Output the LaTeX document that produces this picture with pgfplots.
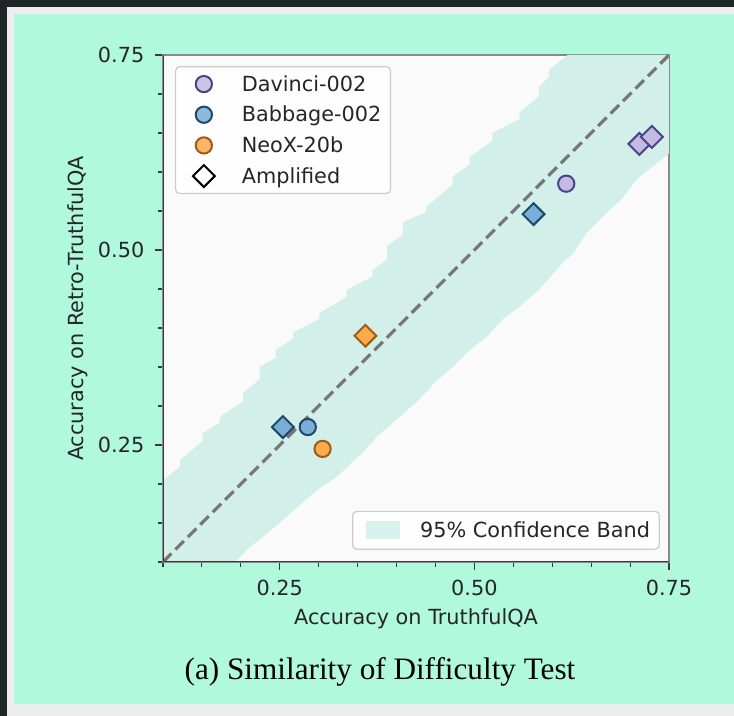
\documentclass[border=0pt]{standalone}
\usepackage{pgfplots}
\pgfplotsset{compat=1.18}
\usepackage{fontspec}
\setmainfont{DejaVu Sans}
\newfontfamily\capfont{Liberation Serif}

\definecolor{darkedge}{HTML}{1F2628}
\definecolor{framegray}{HTML}{EDEDED}
\definecolor{mint}{HTML}{B1F9DC}
\definecolor{plotbg}{HTML}{FAFAFA}
\definecolor{band}{HTML}{D3EFEA}
\definecolor{spine}{HTML}{8A8A8A}
\definecolor{spinedark}{HTML}{3A3A3A}
\definecolor{textc}{HTML}{262626}
\definecolor{legframe}{HTML}{CCCCCC}
\definecolor{diag}{HTML}{777777}
\definecolor{dvfill}{HTML}{C4BBE2}
\definecolor{dvedge}{HTML}{4A4387}
\definecolor{bbfill}{HTML}{7AADD7}
\definecolor{bbedge}{HTML}{1F4A66}
\definecolor{nxfill}{HTML}{FBAA4C}
\definecolor{nxedge}{HTML}{9C5C16}

\newcommand{\lblfont}{\fontsize{15.6}{18}\selectfont}

\pgfplotsset{
  circ/.style 2 args={only marks, mark=*, mark size=6.1pt,
    mark options={line width=1.5pt, fill=#1, draw=#2}},
  diam/.style 2 args={only marks, mark=square*, mark size=5.8pt,
    mark options={rotate=45, line width=1.5pt, fill=#1, draw=#2}},
  boxlegend/.style={
    legend cell align=left,
    legend style={draw=legframe, line width=0.9pt, rounded corners=3pt,
      fill=white, fill opacity=0.85, text opacity=1,
      font=\lblfont, text=textc, column sep=0pt,
      nodes={inner sep=0pt, text height=13.8pt, text depth=3.4pt}},
    legend image post style={sharp corners},
  },
}

\begin{document}
\begin{tikzpicture}[x=0.75pt,y=0.75pt]
\path[use as bounding box] (0,0) rectangle (734,716);
% page surround
\fill[darkedge] (0,0) rectangle (734,716);
\fill[framegray] (7,0) rectangle (734,709);
\fill[mint] (14,12) rectangle (734,702);

\begin{axis}[
  at={(122.25pt,115.5pt)}, anchor=south west,
  width=379.5pt, height=380.25pt, scale only axis,
  xmin=0.1, xmax=0.75, ymin=0.1, ymax=0.75,
  axis background/.style={fill=plotbg},
  axis line style={draw=spine, line width=0.9pt},
  xtick={0.25,0.5,0.75}, ytick={0.25,0.5,0.75},
  minor xtick={0.1,0.15,0.2,0.3,0.35,0.4,0.45,0.55,0.6,0.65,0.7},
  minor ytick={0.1,0.15,0.2,0.3,0.35,0.4,0.45,0.55,0.6,0.65,0.7},
  tick align=outside, xtick pos=left, ytick pos=left,
  major tick length=6pt, minor tick length=3.8pt,
  every tick/.style={draw=spinedark, line width=0.9pt},
  every minor tick/.style={draw=spinedark, line width=0.8pt},
  /pgf/number format/.cd, fixed, fixed zerofill, precision=2, assume math mode=true,
  /pgfplots/.cd,
  tick label style={font=\lblfont, text=textc},
  xticklabel style={yshift=-4pt},
  yticklabel style={xshift=-4.5pt},
  label style={font=\lblfont, text=textc},
  xlabel={Accuracy on TruthfulQA},
  ylabel={Accuracy on Retro-TruthfulQA},
  xlabel style={at={(axis description cs:0.5,-0.111)}, anchor=center},
  ylabel style={at={(axis description cs:-0.168,0.5)}, anchor=center},
  boxlegend,
  legend style={at={(0.0237,0.978)}, anchor=north west,
    inner xsep=7pt, inner ysep=4.4pt, row sep=5.8pt},
  legend image code/.code={
    \path[draw=none, fill=none] (-14.2pt,0pt) (28.5pt,0pt);
    \draw[#1] plot coordinates {(0pt,0pt)};},
]

% 95% confidence band (ragged, stepped edges)
\addplot[fill=band, draw=none, forget plot] coordinates {
  (0.100,0.100) (0.100,0.205)
  (0.122,0.222) (0.122,0.231)
  (0.151,0.255) (0.151,0.265)
  (0.173,0.279) (0.173,0.286)
  (0.203,0.306) (0.203,0.317)
  (0.224,0.334) (0.224,0.350)
  (0.245,0.362) (0.245,0.372)
  (0.267,0.386) (0.267,0.394)
  (0.301,0.412) (0.301,0.419)
  (0.336,0.440) (0.336,0.449)
  (0.369,0.466) (0.369,0.474)
  (0.388,0.488) (0.388,0.505)
  (0.408,0.520) (0.408,0.535)
  (0.438,0.549) (0.438,0.555)
  (0.472,0.584) (0.472,0.594)
  (0.494,0.610) (0.494,0.619)
  (0.523,0.640) (0.523,0.650)
  (0.558,0.668) (0.558,0.676)
  (0.583,0.697) (0.583,0.709)
  (0.596,0.722) (0.596,0.731)
  (0.620,0.750)
  (0.750,0.750) (0.750,0.624)
  (0.708,0.590) (0.690,0.566) (0.669,0.547) (0.644,0.522)
  (0.628,0.497) (0.613,0.483) (0.583,0.449) (0.558,0.427)
  (0.537,0.412) (0.515,0.388) (0.494,0.372) (0.472,0.350)
  (0.450,0.331) (0.429,0.308) (0.395,0.278) (0.376,0.262)
  (0.356,0.240) (0.323,0.209) (0.300,0.194) (0.279,0.176)
  (0.252,0.152) (0.228,0.132) (0.210,0.118) (0.193,0.100)
} -- cycle;

% identity line
\addplot[diag, line width=2.4pt, dash pattern=on 9pt off 4.2pt, forget plot]
  coordinates {(0.1,0.1) (0.75,0.75)};

% original models
\addplot[circ={dvfill}{dvedge}] coordinates {(0.618,0.585)};
\addlegendentry{Davinci-002}
\addplot[circ={bbfill}{bbedge}] coordinates {(0.286,0.273)};
\addlegendentry{Babbage-002}
\addplot[circ={nxfill}{nxedge}] coordinates {(0.305,0.245)};
\addlegendentry{NeoX-20b}

% amplified variants
\addplot[diam={dvfill}{dvedge}, forget plot] coordinates {(0.712,0.636) (0.728,0.645)};
\addplot[diam={bbfill}{bbedge}, forget plot] coordinates {(0.254,0.273) (0.576,0.546)};
\addplot[diam={nxfill}{nxedge}, forget plot] coordinates {(0.360,0.390)};
\addlegendimage{diam={white}{black}}
\addlegendentry{Amplified}

% darker left and bottom spines
\draw[spinedark, line width=0.9pt] (rel axis cs:0,1) -- (rel axis cs:0,0) -- (rel axis cs:1,0);
\end{axis}

% second legend for the band
\begin{axis}[
  at={(122.25pt,115.5pt)}, anchor=south west,
  width=379.5pt, height=380.25pt, scale only axis,
  hide axis, xmin=0, xmax=1, ymin=0, ymax=1,
  boxlegend,
  legend style={at={(0.982,0.024)}, anchor=south east,
    inner xsep=7pt, inner ysep=5.6pt},
  legend image code/.code={
    \fill[band, draw=none] (2.75pt,-6.75pt) rectangle (28.75pt,6.75pt);
    \path[draw=none, fill=none] (0pt,0pt) (43.5pt,0pt);},
]
\addlegendimage{draw=none}
\addlegendentry{95\% Confidence Band}
\end{axis}

\node[font=\capfont\fontsize{23.4}{27}\selectfont, text=black] at (380,44)
  {(a) Similarity of Difficulty Test};
\end{tikzpicture}
\end{document}
